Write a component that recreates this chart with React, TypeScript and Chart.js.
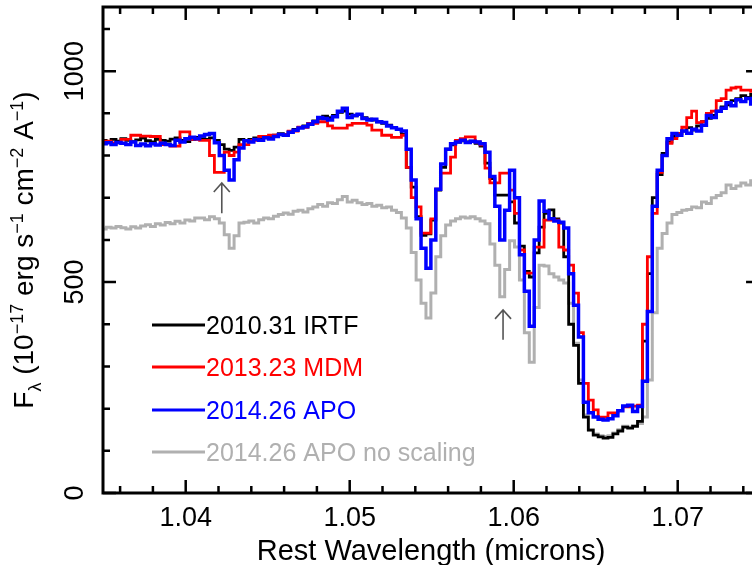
import React, { useEffect, useRef } from "react";
import { Chart, registerables } from "chart.js";

Chart.register(...registerables);

// Wavelength grid (microns)
const wavelength = [
  1.0350, 1.0353, 1.0356, 1.0359, 1.0362, 1.0365, 1.0368, 1.0371, 1.0374, 1.0377,
  1.0380, 1.0383, 1.0386, 1.0389, 1.0392, 1.0395, 1.0398, 1.0401, 1.0404, 1.0407,
  1.0410, 1.0413, 1.0416, 1.0419, 1.0422, 1.0425, 1.0428, 1.0431, 1.0434, 1.0437,
  1.0440, 1.0443, 1.0446, 1.0449, 1.0452, 1.0455, 1.0458, 1.0461, 1.0464, 1.0467,
  1.0470, 1.0473, 1.0476, 1.0479, 1.0482, 1.0485, 1.0488, 1.0491, 1.0494, 1.0497,
  1.0500, 1.0503, 1.0506, 1.0509, 1.0512, 1.0515, 1.0518, 1.0521, 1.0524, 1.0527,
  1.0530, 1.0533, 1.0536, 1.0539, 1.0542, 1.0545, 1.0548, 1.0551, 1.0554, 1.0557,
  1.0560, 1.0563, 1.0566, 1.0569, 1.0572, 1.0575, 1.0578, 1.0581, 1.0584, 1.0587,
  1.0590, 1.0593, 1.0596, 1.0599, 1.0602, 1.0605, 1.0608, 1.0611, 1.0614, 1.0617,
  1.0620, 1.0623, 1.0626, 1.0629, 1.0632, 1.0635, 1.0638, 1.0641, 1.0644, 1.0647,
  1.0650, 1.0653, 1.0656, 1.0659, 1.0662, 1.0665, 1.0668, 1.0671, 1.0674, 1.0677,
  1.0680, 1.0683, 1.0686, 1.0689, 1.0692, 1.0695, 1.0698, 1.0701, 1.0704, 1.0707,
  1.0710, 1.0713, 1.0716, 1.0719, 1.0722, 1.0725, 1.0728, 1.0731, 1.0734, 1.0737,
  1.0740, 1.0743, 1.0746,
];

// 2010.31 IRTF
const fluxIRTF = [
  836, 832, 838, 834, 840, 836, 833, 837, 841, 835,
  832, 838, 836, 834, 839, 842, 836, 833, 838, 843,
  840, 838, 842, 836, 826, 815, 812, 820, 838, 835,
  838, 842, 840, 845, 843, 848, 852, 850, 856, 862,
  866, 870, 876, 882, 888, 893, 890, 895, 902, 905,
  898, 894, 897, 890, 886, 884, 880, 876, 872, 866,
  862, 850, 772, 725, 655, 611, 614, 647, 718, 772,
  815, 825, 832, 835, 832, 834, 829, 822, 782, 745,
  706, 706, 706, 690, 640, 585, 525, 512, 569, 630,
  663, 671, 650, 640, 560, 400, 350, 260, 180, 149,
  137, 133, 130, 132, 140, 147, 156, 154, 158, 170,
  360, 520, 700, 755, 805, 832, 845, 852, 858, 866,
  860, 870, 880, 888, 895, 905, 915, 920, 930, 935,
  942, 938, 945,
];

// 2013.23 MDM
const fluxMDM = [
  834, 834, 830, 830, 838, 838, 848, 848, 846, 846,
  845, 845, 826, 826, 822, 822, 856, 856, 838, 838,
  836, 836, 800, 760, 760, 808, 800, 808, 826, 826,
  836, 836, 845, 845, 848, 848, 850, 850, 858, 858,
  867, 867, 876, 876, 880, 880, 870, 865, 865, 865,
  872, 876, 876, 876, 872, 860, 860, 848, 848, 843,
  843, 848, 772, 700, 678, 616, 616, 650, 720, 758,
  758, 796, 836, 840, 844, 844, 832, 825, 770, 735,
  735, 758, 758, 718, 663, 576, 521, 521, 583, 583,
  647, 647, 647, 583, 576, 540, 474, 380, 260, 220,
  197, 180, 180, 190, 190, 196, 204, 204, 206, 208,
  400, 560, 663, 760, 800, 829, 840, 852, 867, 890,
  905, 878, 880, 900, 905, 930, 935, 955, 960, 962,
  955, 955, 952,
];

// 2014.26 APO
const fluxAPO = [
  828, 830, 826, 831, 829, 826, 832, 824, 827, 823,
  828, 825, 829, 826, 824, 836, 832, 840, 843, 840,
  846, 850, 852, 830, 800, 765, 742, 790, 818, 835,
  832, 838, 836, 842, 839, 845, 850, 848, 855, 860,
  865, 868, 874, 880, 890, 888, 884, 892, 905, 912,
  890, 895, 898, 888, 884, 886, 880, 878, 870, 866,
  862, 858, 815, 742, 650, 580, 533, 600, 720, 780,
  815, 828, 832, 836, 831, 834, 832, 828, 808, 750,
  680, 600, 670, 765, 700, 565, 478, 395, 600, 692,
  668, 650, 645, 642, 628, 520, 445, 370, 215, 190,
  180, 175, 173, 176, 183, 195, 206, 208, 193, 205,
  265, 430, 680, 765, 800, 840, 852, 848, 858, 853,
  862, 858, 872, 895, 890, 905, 912, 925, 918, 932,
  928, 935, 922,
];

// 2014.26 APO no scaling
const fluxAPOraw = [
  626, 630, 628, 632, 629, 626, 631, 628, 633, 636,
  632, 638, 635, 641, 638, 644, 640, 647, 645, 652,
  652, 648, 655, 650, 640, 612, 580, 610, 640, 642,
  645, 640, 648, 652, 650, 656, 660, 664, 661, 668,
  670, 666, 674, 678, 684, 680, 688, 686, 695, 703,
  690, 694, 688, 684, 686, 680, 682, 676, 678, 670,
  665, 652, 628, 570, 505, 450, 415, 474, 560, 610,
  635, 645, 650, 654, 652, 655, 650, 645, 638, 590,
  540, 465, 530, 598, 583, 505, 380, 310, 440, 540,
  538, 520, 512, 505, 498, 450, 355, 268, 185, 150,
  140, 136, 134, 136, 142, 150, 158, 156, 160, 165,
  180, 268, 427, 580, 615, 640, 660, 665, 670, 672,
  678, 676, 690, 686, 700, 705, 712, 730, 722, 728,
  735, 730, 740,
];

const seriesLabels = ["2010.31 IRTF", "2013.23 MDM", "2014.26 APO", "2014.26 APO no scaling"];
const seriesColors = ["#000000", "#ff0000", "#0000ff", "#b0b0b0"];

const xMajorTicks = [1.04, 1.05, 1.06, 1.07];
const xTickLabels = ["1.04", "1.05", "1.06", "1.07"];
const xMinorTicks = [1.036, 1.038, 1.042, 1.044, 1.046, 1.048, 1.052, 1.054, 1.056, 1.058,
  1.062, 1.064, 1.066, 1.068, 1.072, 1.074];
const yMajorTicks = [0, 500, 1000];
const yTickLabels = ["0", "500", "1000"];
const yMinorTicks = [100, 200, 300, 400, 600, 700, 800, 900, 1100];

// arrows marking features
const arrowWave = [1.0422, 1.05935];
const arrowTip = [735, 434];
const arrowBase = [663, 363];

const X_MIN = 1.034957;
const X_MAX = 1.07453;
const X_FRAME_RIGHT = 1.07496;
const Y_MIN = 0;
const Y_MAX = 1152;

const FONT = "'Liberation Sans', Arial, Helvetica, sans-serif";

const decorPlugin = {
  id: "decor",
  afterDraw(chart: any) {
    const { ctx, chartArea } = chart;
    const xs = chart.scales.x;
    const ys = chart.scales.y;
    const left = chartArea.left;
    const top = chartArea.top;
    const bottom = chartArea.bottom;
    const right = xs.getPixelForValue(X_FRAME_RIGHT);
    const MAJ = 13;
    const MIN = 7;
    ctx.save();
    ctx.strokeStyle = "#000";
    ctx.lineWidth = 3;
    ctx.lineCap = "butt";
    ctx.beginPath();
    ctx.moveTo(right, top);
    ctx.lineTo(left, top);
    ctx.lineTo(left, bottom);
    ctx.lineTo(right, bottom);
    ctx.lineTo(right, top);
    ctx.stroke();

    ctx.lineWidth = 2.5;
    const tickX = (v: number, len: number) => {
      const p = xs.getPixelForValue(v);
      ctx.beginPath();
      ctx.moveTo(p, bottom);
      ctx.lineTo(p, bottom - len);
      ctx.moveTo(p, top);
      ctx.lineTo(p, top + len);
      ctx.stroke();
    };
    const tickY = (v: number, len: number) => {
      const p = ys.getPixelForValue(v);
      ctx.beginPath();
      ctx.moveTo(left, p);
      ctx.lineTo(left + len, p);
      ctx.moveTo(right, p);
      ctx.lineTo(right - len, p);
      ctx.stroke();
    };
    xMajorTicks.forEach((v) => tickX(v, MAJ));
    xMinorTicks.forEach((v) => tickX(v, MIN));
    yMajorTicks.forEach((v) => tickY(v, MAJ));
    yMinorTicks.forEach((v) => tickY(v, MIN));

    // x tick labels
    ctx.fillStyle = "#000";
    ctx.font = `27px ${FONT}`;
    ctx.textAlign = "center";
    ctx.textBaseline = "alphabetic";
    xMajorTicks.forEach((v, i) => {
      ctx.fillText(xTickLabels[i], xs.getPixelForValue(v), 526);
    });
    // x title
    ctx.font = `29px ${FONT}`;
    ctx.fillText("Rest Wavelength (microns)", (left + right) / 2, 560);

    // y tick labels (rotated)
    ctx.font = `27px ${FONT}`;
    yMajorTicks.forEach((v, i) => {
      ctx.save();
      ctx.translate(83, ys.getPixelForValue(v));
      ctx.rotate(-Math.PI / 2);
      ctx.textAlign = "center";
      ctx.fillText(yTickLabels[i], 0, 0);
      ctx.restore();
    });

    // y title with sub/superscripts
    const pieces = [
      { t: "F", s: 28, dy: 0 },
      { t: "\u03bb", s: 18, dy: 8 },
      { t: " (10", s: 28, dy: 0 },
      { t: "\u221217", s: 18, dy: -10 },
      { t: " erg s", s: 28, dy: 0 },
      { t: "\u22121", s: 18, dy: -10 },
      { t: " cm", s: 28, dy: 0 },
      { t: "\u22122", s: 18, dy: -10 },
      { t: " A", s: 28, dy: 0 },
      { t: "\u22121", s: 18, dy: -10 },
      { t: ")", s: 28, dy: 0 },
    ];
    let total = 0;
    const widths = pieces.map((p) => {
      ctx.font = `${p.s}px ${FONT}`;
      const w = ctx.measureText(p.t).width;
      total += w;
      return w;
    });
    ctx.save();
    ctx.translate(33, (top + bottom) / 2);
    ctx.rotate(-Math.PI / 2);
    ctx.textAlign = "left";
    let cx = -total / 2;
    pieces.forEach((p, i) => {
      ctx.font = `${p.s}px ${FONT}`;
      ctx.fillText(p.t, cx, p.dy);
      cx += widths[i];
    });
    ctx.restore();

    // arrows
    ctx.strokeStyle = "#555555";
    ctx.lineWidth = 1.6;
    arrowWave.forEach((w, i) => {
      const ax = xs.getPixelForValue(w);
      const ty = ys.getPixelForValue(arrowTip[i]);
      const by = ys.getPixelForValue(arrowBase[i]);
      ctx.beginPath();
      ctx.moveTo(ax, by);
      ctx.lineTo(ax, ty);
      ctx.moveTo(ax - 8, ty + 9);
      ctx.lineTo(ax, ty);
      ctx.lineTo(ax + 8, ty + 9);
      ctx.stroke();
    });

    // legend
    const legendY = [325, 367, 410, 452];
    ctx.font = `25px ${FONT}`;
    ctx.textAlign = "left";
    seriesLabels.forEach((lab, i) => {
      ctx.strokeStyle = seriesColors[i];
      ctx.fillStyle = seriesColors[i];
      ctx.lineWidth = 3;
      ctx.beginPath();
      ctx.moveTo(152, legendY[i]);
      ctx.lineTo(205, legendY[i]);
      ctx.stroke();
      ctx.fillText(lab, 206, legendY[i] + 9);
    });
    ctx.restore();
  },
};

export default function App() {
  const ref = useRef<HTMLCanvasElement>(null);
  useEffect(() => {
    const mk = (flux: number[]) => wavelength.map((w, i) => ({ x: w, y: flux[i] }));
    const chart = new Chart(ref.current as HTMLCanvasElement, {
      type: "line",
      data: {
        datasets: [
          { label: seriesLabels[2], data: mk(fluxAPO), borderColor: seriesColors[2], borderWidth: 3.5 },
          { label: seriesLabels[1], data: mk(fluxMDM), borderColor: seriesColors[1], borderWidth: 2.8 },
          { label: seriesLabels[0], data: mk(fluxIRTF), borderColor: seriesColors[0], borderWidth: 2.8 },
          { label: seriesLabels[3], data: mk(fluxAPOraw), borderColor: seriesColors[3], borderWidth: 3 },
        ].map((d) => ({ ...d, stepped: "middle" as const, pointRadius: 0, fill: false, tension: 0 })),
      },
      options: {
        animation: false,
        responsive: false,
        devicePixelRatio: 1,
        events: [],
        layout: { padding: { left: 103, right: 0, top: 7, bottom: 72 } },
        plugins: { legend: { display: false }, tooltip: { enabled: false } },
        scales: {
          x: { type: "linear", min: X_MIN, max: X_MAX, display: false },
          y: { type: "linear", min: Y_MIN, max: Y_MAX, display: false },
        },
      },
      plugins: [decorPlugin],
    });
    return () => chart.destroy();
  }, []);
  return (
    <div style={{ position: "absolute", left: 0, top: 0, width: 752, height: 565, background: "#fff" }}>
      <canvas ref={ref} width={752} height={565} style={{ display: "block", width: 752, height: 565 }} />
    </div>
  );
}
